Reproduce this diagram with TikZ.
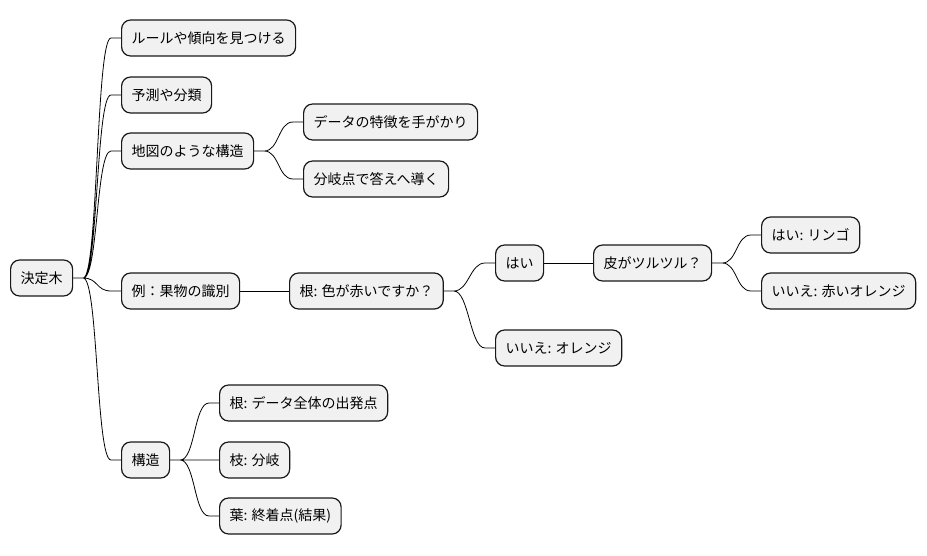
\documentclass[tikz,border=0pt]{standalone}
\usepackage{fontspec}
\setmainfont{Noto Sans CJK JP}
\usetikzlibrary{calc}
\definecolor{boxfill}{HTML}{F1F1F1}
\definecolor{boxline}{HTML}{181818}
\tikzset{
  topic/.style={draw=boxline,fill=boxfill,line width=1.2pt,rounded corners=9pt,
    minimum height=36pt,inner xsep=10pt,inner ysep=0pt,anchor=west,font=\fontsize{14pt}{16pt}\selectfont},
  branch/.style={to path={-- ++(10,0) .. controls +(15,0) and ($(\tikztotarget)+(-25,0)$) .. ($(\tikztotarget)+(-10,0)$) -- (\tikztotarget)}},
}
\begin{document}
\begin{tikzpicture}[x=1pt,y=-1pt,line width=0.8pt]
    \useasboundingbox (0,0) rectangle (927,555);
    \node[topic](root)at(10,278){決定木};
    \node[topic](rule)at(121,38){ルールや傾向を見つける};
    \node[topic](pred)at(121,95){予測や分類};
    \node[topic](map)at(121,151){地図のような構造};
    \node[topic](ex)at(121,291){例：果物の識別};
    \node[topic](str)at(121,460){構造};
    \node[topic](feat)at(303,122){データの特徴を手がかり};
    \node[topic](lead)at(303,179){分岐点で答えへ導く};
    \node[topic](red)at(289,291){根: 色が赤いですか？};
    \node[topic](yes)at(495,263){はい};
    \node[topic](no)at(495,348){いいえ: オレンジ};
    \node[topic](skin)at(593,263){皮がツルツル？};
    \node[topic](apple)at(761,235){はい: リンゴ};
    \node[topic](redor)at(761,291){いいえ: 赤いオレンジ};
    \node[topic](start)at(219,403){根: データ全体の出発点};
    \node[topic](fork)at(219,460){枝: 分岐};
    \node[topic](leaf)at(219,516){葉: 終着点(結果)};
    \draw(root.east)to[branch](rule.west) (root.east)to[branch](pred.west)
         (root.east)to[branch](map.west) (root.east)to[branch](ex.west)
         (root.east)to[branch](str.west);
    \draw(map.east)to[branch](feat.west) (map.east)to[branch](lead.west);
    \draw(ex.east)--(red.west);
    \draw(red.east)to[branch](yes.west) (red.east)to[branch](no.west);
    \draw(yes.east)--(skin.west);
    \draw(skin.east)to[branch](apple.west) (skin.east)to[branch](redor.west);
    \draw(str.east)to[branch](start.west) (str.east)to[branch](fork.west)
         (str.east)to[branch](leaf.west);
\end{tikzpicture}
\end{document}
